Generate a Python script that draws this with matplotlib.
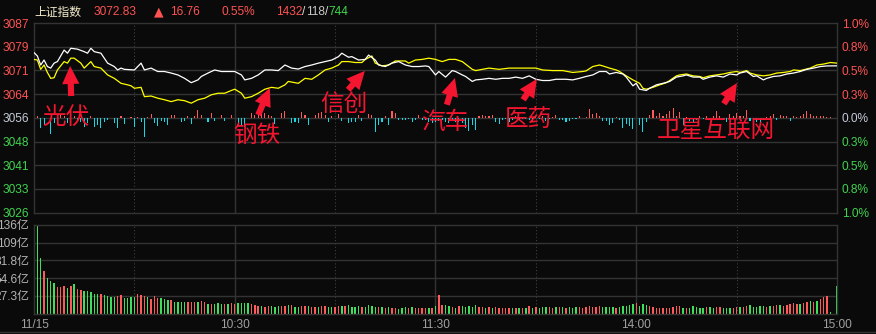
import matplotlib
matplotlib.use('Agg')
import matplotlib.pyplot as plt
from matplotlib.lines import Line2D
import numpy as np

# ---------------- data ----------------
index_name = '上证指数'
prev_close = 3056.07
last_price = '3072.83'
change = '16.76'
change_pct = '0.55%'
breadth = ['1432', '118', '744']

# white line (index), minute -> price
white_min = [0,1,2,3,4,5,6,7,9,10,11,13,15,16,17,18,20,22,24,25,26,27,30,31,32,33,35,37,39,41,43,45,47,49,50,52,54,56,58,60,
             62,63,65,67,69,71,73,75,77,79,81,83,85,87,89,91,92,94,95,97,99,100,102,103,105,107,109,111,113,115,117,118,
             120,121,123,125,126,128,129,131,132,134,136,138,140,142,144,146,148,150,152,154,156,159,161,163,165,167,169,
             171,172,174,176,177,179,180,181,183,184,186,188,190,192,194,195,197,199,200,202,204,206,208,210,211,213,215,
             216,218,219,221,223,225,227,229,231,233,235,237,240]
white_val = [3077.1,3076.0,3073.1,3074.7,3072.6,3072.1,3073.7,3074.2,3077.9,3076.9,3078.5,3078.2,3077.4,3076.9,3078.5,
             3077.4,3076.9,3073.7,3072.6,3071.5,3072.1,3071.7,3071.5,3072.6,3073.7,3071.5,3072.1,3071.0,3071.0,3070.5,
             3069.9,3068.8,3067.4,3068.3,3069.4,3070.5,3071.5,3071.0,3071.0,3071.0,3069.9,3068.3,3068.8,3069.9,3071.5,
             3071.5,3071.3,3073.1,3072.1,3071.8,3072.6,3073.1,3073.7,3074.2,3074.7,3075.8,3076.9,3075.6,3075.8,3074.7,
             3074.9,3076.3,3074.7,3073.1,3072.6,3073.7,3074.2,3073.1,3072.6,3072.6,3072.8,3072.6,3069.9,3071.0,3069.2,
             3071.3,3071.0,3069.9,3069.4,3067.8,3068.3,3068.5,3068.8,3068.5,3068.8,3068.8,3069.2,3068.8,3069.6,3068.5,
             3068.1,3068.1,3068.5,3068.5,3068.3,3068.8,3069.4,3069.9,3071.0,3071.0,3070.2,3070.7,3070.2,3069.2,3066.4,
             3067.2,3065.3,3064.9,3065.6,3066.7,3067.2,3067.8,3069.2,3069.6,3069.9,3069.2,3069.2,3068.5,3069.2,3069.6,
             3069.2,3070.2,3069.9,3070.5,3071.0,3069.4,3069.6,3068.3,3068.8,3069.4,3069.6,3070.2,3070.5,3071.0,3071.7,
             3072.1,3072.6,3072.8,3072.83]

# yellow line, minute -> price
yellow_min = [0,1,2,3,4,5,6,7,9,10,11,12,14,15,17,18,20,22,24,26,28,29,30,32,33,35,37,39,41,43,45,47,49,51,53,55,57,59,60,
              62,63,65,67,69,71,73,75,76,78,79,81,83,85,87,89,91,92,94,96,98,99,101,102,104,106,108,111,112,114,116,118,
              120,122,124,126,128,131,132,134,136,139,142,146,150,152,155,158,161,164,165,167,169,170,172,174,175,177,179,
              181,182,183,185,187,189,190,192,193,195,197,199,200,202,204,206,208,210,211,213,214,216,218,220,222,224,226,
              227,229,232,234,236,238,240]
yellow_val = [3074.9,3074.7,3071.7,3073.1,3070.7,3068.8,3069.0,3071.5,3074.2,3073.7,3075.3,3075.3,3073.7,3072.1,3074.2,
              3072.6,3072.1,3069.9,3068.8,3067.2,3066.7,3066.4,3065.6,3065.9,3062.9,3063.1,3062.4,3061.9,3061.3,3061.9,
              3061.6,3060.8,3061.9,3062.4,3063.5,3064.0,3064.0,3064.9,3065.3,3064.0,3062.4,3062.9,3064.0,3065.3,3065.9,
              3065.6,3066.7,3067.8,3067.4,3067.2,3068.8,3068.5,3069.9,3071.5,3072.1,3073.1,3074.2,3074.2,3073.9,3073.9,
              3074.9,3076.0,3073.7,3072.8,3073.1,3074.4,3074.4,3073.7,3074.7,3074.9,3075.3,3074.9,3074.2,3074.9,3074.9,
              3074.2,3071.7,3071.3,3071.7,3072.1,3071.7,3072.1,3072.1,3072.1,3071.5,3071.3,3071.3,3070.7,3071.0,3071.2,
              3072.6,3073.1,3072.8,3072.1,3071.5,3071.0,3069.6,3068.3,3067.2,3065.6,3065.3,3065.9,3066.7,3067.4,3068.1,
              3069.6,3069.9,3070.2,3069.6,3069.4,3069.0,3069.6,3069.9,3070.2,3070.7,3071.0,3070.7,3071.3,3070.5,3069.9,
              3069.6,3069.9,3070.5,3070.7,3071.0,3071.5,3071.3,3072.1,3073.1,3073.4,3073.9,3073.7]

# up/down strength bars around the previous close (minute, value)
strength_min = [1,2,3,5,6,8,9,10,11,12,13,14,15,16,17,18,19,20,21,22,24,25,26,27,29,30,31,32,33,34,35,36,37,38,39,40,41,42,
                44,45,46,47,48,49,50,52,53,54,56,57,59,61,62,63,65,66,67,68,69,70,71,72,74,75,77,78,79,80,81,82,84,85,86,
                87,88,89,91,92,94,95,96,97,98,100,101,102,103,104,105,106,107,108,109,110,111,112,113,114,115,116,117,118,
                119,120,121,122,123,124,125,126,127,128,129,130,131,132,133,134,135,136,137,138,139,140,141,142,143,144,
                145,146,147,148,149,150,151,152,153,154,155,156,157,158,159,160,161,162,163,164,165,166,167,168,169,170,
                171,172,173,174,175,176,177,178,179,181,182,183,184,185,186,187,188,189,190,191,192,193,194,195,196,197,
                198,199,200,201,202,203,204,205,206,207,208,209,210,211,212,213,214,215,216,217,218,219,220,221,222,223,
                224,225,226,227,228,229,230,231,232,233,234,235,236,237,238]
strength_val = [2.3,-9.7,-7,-16,-5.3,3,2,-5.3,-2.7,2,-3.7,-4,-8.7,-5.3,2,-8.7,-7,-9.7,-3.7,-2,-5.3,-9.7,1.5,-6,1.3,-8.7,1.3,
                -3.7,-19.3,1,4,-4.7,-8,-2.7,-3.7,-7,3,3.3,-4.3,-2.7,2,-6,2,8,3,-3.7,5.3,-2.7,3.3,-2.7,3.3,-8,-8,-8.7,4.7,
                2.7,8.7,4,5.3,3.3,2.3,-6,4.7,7,-5.3,-3.7,-5.3,5.7,3,-7,3,4.7,6.3,3,-3.7,2.3,3.7,-3,-5.3,-3.7,-3.7,3,-3,3.7,
                3,-13.7,-7,-3.7,2.3,-7,7,4.7,-2,-2,-2,-1,-3.7,-2,3,-2,-2,-3.7,-5.3,-3.7,-3,-2,-3.7,-5.3,-3,-3.7,-3.7,-5.3,
                -10.3,-13,-7,-12,2.3,3,2.3,2.3,3,-3.7,-6.3,-2,-1,-3.7,-2,2.3,-2,-1,-1,-2,-3.7,2.3,-1,2.3,-3,-1,1.3,3,-2,-2,
                -3.7,-3,-1,-1,2.3,0.3,1.3,9,3.7,4.7,2.3,-3,-3,-7,-5.3,1.3,-2,-10.3,-6.3,-7.7,-11,-7,-14.3,-4.3,3,8,2.3,4.7,
                2.3,3.7,7,10.3,2.3,6.3,-7,1.3,-3,-4.3,-2,2.3,-1,2.3,0.3,2.3,7,2.3,-2,-3.7,3.7,2.3,4.7,2.3,2.3,8,-3,-2,-4.3,
                -3.7,-2,1.3,2.3,3.7,-2,3,2.3,2.3,-3,2.3,1.3,2.3,3.7,7,3.7,2.3,2.3,2.3,2.3,1.3,1.3]

# per-minute turnover (亿), minute 0..240, and direction (r = up, g = down)
volume = [42.7,135.7,85.3,65.8,55.5,50.4,46.8,41.6,41.6,42.7,
          40.1,42.7,45.7,38.0,36.5,35.0,35.0,33.9,30.3,29.8,
          29.8,28.8,27.2,26.2,25.2,26.7,28.8,24.2,24.2,26.2,
          26.2,30.3,28.8,27.2,25.2,22.1,27.2,24.7,23.6,22.1,
          21.1,21.1,18.5,18.5,18.5,18.5,17.5,18.5,18.5,17.5,
          19.5,17.5,15.4,15.4,15.4,16.4,15.4,14.4,15.4,15.9,
          14.4,16.4,16.4,16.4,16.4,14.4,13.4,12.3,12.3,10.8,
          12.3,12.3,10.8,11.8,12.3,11.8,13.4,13.4,10.8,10.8,
          11.8,12.3,11.8,10.8,10.8,10.8,12.3,12.3,10.8,10.8,
          10.8,12.3,12.3,12.3,13.4,10.8,10.8,11.8,10.8,10.8,
          13.4,12.3,10.8,10.8,10.8,9.3,10.3,9.3,9.3,7.2,
          9.3,10.3,9.3,10.3,9.3,9.3,9.3,9.3,9.3,9.3,
          11.8,28.8,13.4,13.4,11.8,10.3,9.3,11.8,11.8,10.8,
          12.3,10.8,13.4,10.8,10.8,9.3,10.3,9.3,10.3,9.3,
          9.3,9.3,9.3,9.3,9.3,9.3,9.3,9.3,11.8,9.3,
          10.3,9.3,10.3,10.3,10.3,9.3,10.3,10.3,10.3,9.3,
          10.3,9.3,10.3,10.3,9.3,10.3,11.8,10.8,10.3,11.8,
          10.3,10.3,10.3,10.3,8.2,10.3,11.8,11.8,13.4,14.9,
          17.0,11.8,14.4,13.4,11.8,10.3,9.3,9.3,9.3,9.3,
          9.3,10.3,11.8,11.8,9.3,9.3,9.3,11.8,10.3,9.3,
          9.3,10.3,10.3,9.3,10.3,10.3,9.3,9.3,9.3,9.3,
          10.3,10.3,10.3,11.8,13.4,10.3,10.3,11.8,11.8,10.3,
          11.8,11.8,13.4,13.4,12.3,13.4,14.4,15.9,14.9,14.9,
          15.9,17.5,19.5,18.5,19.5,22.1,26.2,27.2,2.1,0.0,
          42.7]
volume_dir = ('rggrgggrrr' 'grgrrggggg' 'rggggrrggg' 'grrrgrrrgg' 'grggggrrrg'
              'rrgrgggrgr' 'rggggrrrgr' 'rgggrrgrgg' 'rrgrrgrrgg' 'rrgrggggrg'
              'gggrgrgrrg' 'ggrgrrrrgr' 'grrggrgrgg' 'gggrrgrgrr' 'rrrgrgrgrg'
              'rgggrrgrgr' 'gggrrrrrrr' 'ggggrggggg' 'rgggrrrrrr' 'rrrrgrgggg'
              'grggrrgggr' 'rgrrgggggr' 'grrgrrrrrg' 'rrgrgrrrggg')

price_tick_labels = ['3087', '3079', '3071', '3064', '3056', '3048', '3041', '3033', '3026']
pct_tick_labels = ['1.0%', '0.8%', '0.5%', '0.3%', '0.0%', '0.3%', '0.5%', '0.8%', '1.0%']
vol_tick_values = [27.28, 54.56, 81.84, 109.12, 136.4]
vol_tick_labels = ['27.3亿', '54.6亿', '81.8亿', '109亿', '136亿']
time_ticks = [0, 60, 120, 180, 240]
time_labels = ['11/15', '10:30', '11:30', '14:00', '15:00']

# sector annotations: label, text position, arrow tail, arrow tip (minute, price)
sector_labels = ['光伏', '钢铁', '信创', '汽车', '医药', '卫星互联网']
sector_text = [(9.6, 3056.1), (66.7, 3050.3), (92.7, 3060.3), (122.8, 3054.5), (147.7, 3055.4), (203.8, 3051.9)]
sector_tail = [(11.1, 3063.1), (67.0, 3057.0), (93.9, 3065.1), (123.4, 3060.3), (146.2, 3061.9), (206.2, 3060.6)]
sector_tip = [(10.8, 3072.8), (70.5, 3065.7), (98.9, 3071.2), (125.8, 3068.9), (150.3, 3068.6), (210.1, 3067.3)]

# ---------------- style ----------------
BG = '#0a0a0a'
GRID = '#333333'
RED = '#ff5353'
GREEN = '#3fd34f'
NEUTRAL = '#c4ccd8'
VRED = '#ff5a5a'
VGREEN = '#3ee05a'
CYAN = '#14d8e6'
ANN = '#f41630'
NUMFONT = ['Liberation Sans', 'Noto Sans CJK SC']
CJK = ['Noto Sans CJK SC', 'DejaVu Sans']
FS = 8.6

W, H = 876, 334
fig = plt.figure(figsize=(W / 100, H / 100), dpi=100, facecolor=BG)


def frame(x0, y0, x1, y1):
    return [x0 / W, 1 - y1 / H, (x1 - x0) / W, (y1 - y0) / H]


ax = fig.add_axes(frame(34, 23, 837, 212.7))
axv = fig.add_axes(frame(34, 225, 837, 313.7))

lo, hi = prev_close * 0.99, prev_close * 1.01
price_ticks = [prev_close * (1 + k * 0.0025) for k in range(4, -5, -1)]

for a in (ax, axv):
    a.set_facecolor(BG)
    a.set_xlim(0, 240)
    for s in a.spines.values():
        s.set_color(GRID)
        s.set_linewidth(1.0)
    a.tick_params(length=0)
    for m in (60, 120, 180):
        a.axvline(m, color=GRID, lw=1.0, zorder=0)
    for m in (30, 90, 150, 210):
        a.axvline(m, color='#404040', lw=0.8, ls=(0, (1, 2)), zorder=0)

# ---- main price panel ----
ax.set_ylim(lo, hi)
for p in price_ticks[1:-1]:
    ax.axhline(p, color=GRID, lw=1.0, zorder=0)
ax.set_yticks(price_ticks)
ax.set_yticklabels(price_tick_labels, fontsize=FS, family=NUMFONT)
ax.tick_params(axis='y', pad=3.5)
ax.set_xticks([])
label_colors = [RED] * 4 + [NEUTRAL] + [GREEN] * 4
for t, c in zip(ax.get_yticklabels(), label_colors):
    t.set_color(c)

axr = ax.twinx()
axr.set_ylim(lo, hi)
axr.set_yticks(price_ticks)
axr.set_yticklabels(pct_tick_labels, fontsize=FS, family=NUMFONT)
axr.tick_params(length=0, pad=3.5)
for s in axr.spines.values():
    s.set_visible(False)
for t, c in zip(axr.get_yticklabels(), label_colors):
    t.set_color(c)

# strength bars
strength_scale = (hi - lo) / 190.0
sv = np.array(strength_val)
ax.bar(strength_min, sv * strength_scale, bottom=prev_close, width=0.32,
       color=[VRED if v > 0 else CYAN for v in sv], zorder=2, linewidth=0)

ax.plot(white_min, white_val, color='white', lw=0.9, zorder=4)
ax.plot(yellow_min, yellow_val, color='#ffff00', lw=0.9, zorder=3)

# annotations
for lab, tp, tl, tip in zip(sector_labels, sector_text, sector_tail, sector_tip):
    ax.annotate('', xy=tip, xytext=tl, xycoords='data', textcoords='data',
                arrowprops=dict(arrowstyle='simple,head_length=1.0,head_width=0.95,tail_width=0.34',
                                color=ANN, shrinkA=0, shrinkB=0, mutation_scale=13, lw=0),
                zorder=6, annotation_clip=False)
    ax.text(tp[0], tp[1], lab, color=ANN, fontsize=17, family=CJK, ha='center', va='center',
            zorder=7, clip_on=False)

# ---- volume panel ----
vmax = vol_tick_values[-1]
axv.set_ylim(0, vmax)
for v in vol_tick_values[:-1]:
    axv.axhline(v, color=GRID, lw=1.0, zorder=0)
minutes = np.arange(len(volume))
axv.bar(minutes, volume, width=0.42, color=[VRED if d == 'r' else VGREEN for d in volume_dir],
        linewidth=0, zorder=2)
axv.set_yticks(vol_tick_values)
axv.set_yticklabels(vol_tick_labels, fontsize=FS, family=NUMFONT, color='#b4b4b4')
axv.tick_params(axis='y', pad=3.5)
axv.set_xticks(time_ticks)
axv.set_xticklabels(time_labels, fontsize=FS, family=NUMFONT, color='#a0a0a0')
axv.tick_params(axis='x', pad=4)

fig.add_artist(Line2D([0, 1], [1 - 332 / H] * 2, transform=fig.transFigure, color=GRID, lw=1.0))

# ---- header ----
hy = 1 - 12 / H
fig.text(34 / W, hy, index_name, color='#f2eccb', fontsize=8.5, family=CJK, va='center')
fig.text(94 / W, hy, last_price, color=RED, fontsize=8.6, family=NUMFONT, va='center')
fig.text(154 / W, hy, '▲', color=RED, fontsize=9, family='DejaVu Sans', va='center')
fig.text(170 / W, hy, change, color=RED, fontsize=8.6, family=NUMFONT, va='center')
fig.text(222 / W, hy, change_pct, color=RED, fontsize=8.6, family=NUMFONT, va='center')
t1 = fig.text(276 / W, hy, breadth[0], color=RED, fontsize=8.6, family=NUMFONT, va='center')
fig.canvas.draw()
r = fig.canvas.get_renderer()
x = t1.get_window_extent(r).x1
parts = [('/', '#e0e0e0'), (breadth[1], '#c8c8c8'), ('/', '#e0e0e0'), (breadth[2], GREEN)]
for s, c in parts:
    t = fig.text(x / W, hy, s, color=c, fontsize=8.6, family=NUMFONT, va='center')
    x = t.get_window_extent(r).x1

fig.savefig('out.png', dpi=100, facecolor=BG)
